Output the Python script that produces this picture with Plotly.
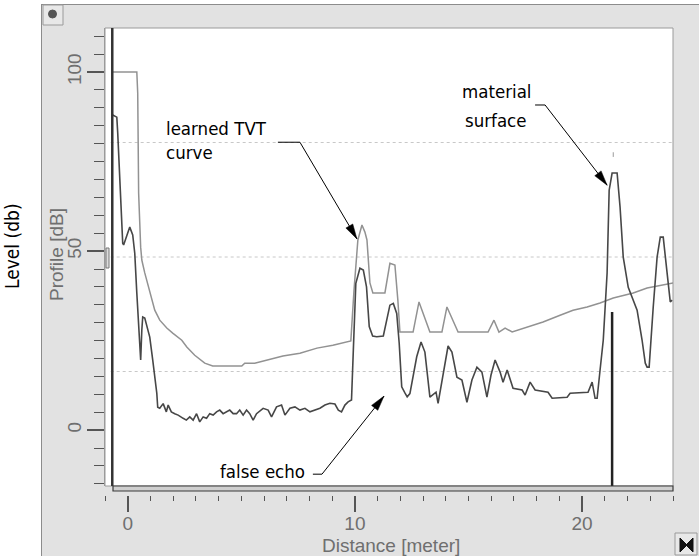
import math

import plotly.graph_objects as go

# ── Data ────────────────────────────────────────────────────────────────────
echo_x = [
    -0.66, -0.48, -0.44, -0.35, -0.26, -0.22, -0.18, -0.04, 0.09, 0.22,
    0.31, 0.40, 0.48, 0.57, 0.62, 0.66, 0.75, 0.88, 0.97, 1.10,
    1.28, 1.32,
    1.41, 1.56, 1.70, 1.78, 1.92, 2.07, 2.22, 2.44, 2.58, 2.73,
    2.88, 3.03, 3.17, 3.32, 3.47, 3.61, 3.76, 3.91, 4.05, 4.20,
    4.35, 4.49, 4.64, 4.79, 4.93, 5.08, 5.23, 5.37, 5.52, 5.67,
    5.96, 6.18, 6.33, 6.55, 6.77, 6.92, 7.14, 7.36, 7.58, 7.80,
    8.02, 8.24, 8.46, 8.68, 8.90, 9.12, 9.27, 9.41, 9.56, 9.70,
    9.85,
    9.93, 10.04, 10.22, 10.37, 10.51, 10.63, 10.78, 10.96, 11.25, 11.40,
    11.54, 11.69, 11.84, 11.95, 12.06, 12.20, 12.30, 12.42, 12.72, 12.91,
    13.08, 13.30, 13.57, 13.66, 13.88, 14.10, 14.27, 14.49, 14.71, 14.93,
    15.15, 15.37, 15.59, 15.81, 15.99, 16.17, 16.39, 16.52, 16.70, 16.96,
    17.36, 17.49, 17.71, 17.93, 18.50, 18.68, 19.34, 19.47, 20.26, 20.44,
    20.57, 20.66, 20.79, 20.93, 21.10, 21.19, 21.32, 21.54, 21.67, 21.81,
    22.03, 22.20, 22.42, 22.64, 22.78, 22.86, 22.95, 23.13, 23.30, 23.44,
    23.57, 23.74, 23.88, 23.96,
]
echo_y = [
    88.0, 87.4, 83.0, 70.7, 61.5, 52.2, 51.7, 54.5, 56.7, 54.5,
    49.4, 38.3, 28.8, 19.6, 27.9, 31.6, 31.3, 27.9, 26.0, 19.6,
    10.3, 6.4,
    6.1, 7.4, 5.1, 7.0, 5.1, 4.6, 4.2, 3.3, 2.8, 3.7,
    2.8, 4.6, 2.3, 3.7, 3.3, 4.6, 4.2, 5.1, 5.6, 4.6,
    5.1, 5.6, 4.6, 4.6, 5.6, 4.2, 5.6, 4.6, 2.8, 4.6,
    6.1, 5.6, 3.7, 6.5, 7.0, 4.2, 6.1, 6.5, 5.6, 6.1,
    5.1, 5.6, 6.1, 7.0, 7.5, 7.3, 5.6, 5.1, 7.0, 7.9,
    8.4,
    22.3, 41.0, 45.2, 44.7, 40.0, 28.9, 26.3, 26.1, 26.3, 30.7,
    34.9, 35.4, 32.6, 24.2, 12.1, 10.4, 9.3, 10.2, 20.5, 24.6,
    21.8, 9.2, 10.6, 7.5, 15.4, 23.5, 21.8, 14.8, 14.0, 7.8,
    14.0, 17.6, 16.2, 9.2, 15.4, 19.6, 16.2, 13.4, 16.8, 11.7,
    11.2, 9.8, 13.4, 11.2, 10.6, 8.9, 9.2, 10.3, 10.6, 13.4,
    8.9, 8.9, 16.8, 25.1, 43.9, 67.0, 71.8, 71.8, 62.3, 48.3,
    39.9, 37.2, 33.5, 25.1, 18.7, 17.6, 17.6, 34.4, 48.3, 53.9,
    53.9, 43.9, 35.8, 36.3,
]

tvt_x = [
    -0.66, 0.40, 0.44, 0.46, 0.48, 0.57, 0.62, 0.75, 0.97, 1.19,
    1.41, 1.72, 1.98, 2.38, 2.60, 2.95, 3.39, 3.74, 5.02, 5.15,
    5.59, 6.26, 6.83, 7.58, 8.33, 9.03, 9.69, 9.82, 9.96, 10.13,
    10.31, 10.44, 10.53, 10.66, 10.79, 11.32, 11.54, 11.76, 11.89, 11.98,
    12.56, 12.82, 13.30, 13.83, 14.05, 14.54, 15.86, 16.12, 16.34, 16.61,
    16.92, 17.58, 18.28, 19.03, 19.60, 20.22, 20.79, 21.37, 22.25, 22.86,
    23.44, 24.01,
]
tvt_y = [
    100.0, 100.0, 94.1, 84.6, 66.2, 51.1, 47.5, 43.9, 38.3, 33.5,
    30.7, 28.5, 27.1, 25.1, 23.2, 20.9, 18.7, 17.9, 17.9, 18.7,
    18.7, 19.8, 20.7, 21.5, 22.9, 23.7, 24.6, 24.9, 39.1, 53.1,
    57.3, 55.3, 53.1, 41.1, 38.3, 38.3, 46.6, 46.1, 36.3, 27.4,
    27.4, 35.8, 27.4, 27.4, 34.4, 27.4, 27.4, 30.7, 27.4, 28.5,
    27.4, 28.8, 30.2, 32.1, 33.5, 34.4, 35.5, 36.9, 38.3, 39.7,
    40.5, 41.1,
]

echo_marker_x = 21.32      # selected echo (material surface)
echo_marker_top = 33.0
blanking_x = -0.68         # near blanking cursor

X_RANGE = [-1.0, 24.0]
Y_RANGE = [-15.6, 112.3]

# ── Page geometry (pixels) ──────────────────────────────────────────────────
W, H = 699, 556
L, R, T, B = 105, 673, 28, 495   # plotting area; x axis hangs at B
PLOT_BOTTOM = 486
XPX = (R - L) / (X_RANGE[1] - X_RANGE[0])
YPX = (PLOT_BOTTOM - T) / (Y_RANGE[1] - Y_RANGE[0])


def fx(px):
    return (px - L) / (R - L)


def fy(py):
    return (B - py) / (B - T)


PANEL = "#e2e2e2"
TICK_GREY = "#6f6f6f"
AXFONT = "Liberation Sans, Arial, sans-serif"
NARROW = "DejaVu Sans Condensed, Liberation Sans Narrow, sans-serif"

fig = go.Figure()

fig.add_trace(go.Scatter(
    x=tvt_x, y=tvt_y, mode="lines",
    line=dict(color="#929292", width=1.5),
    hoverinfo="skip", showlegend=False,
))
fig.add_trace(go.Scatter(
    x=echo_x, y=echo_y, mode="lines",
    line=dict(color="#474747", width=1.6),
    hoverinfo="skip", showlegend=False,
))
fig.add_trace(go.Scatter(
    x=[echo_marker_x, echo_marker_x], y=[Y_RANGE[0], echo_marker_top],
    mode="lines", line=dict(color="#222222", width=2.5),
    hoverinfo="skip", showlegend=False,
))

shapes = []
# white page outside the grey instrument panel
shapes.append(dict(type="rect", xref="paper", yref="paper", layer="below",
                   x0=fx(0), x1=fx(41), y0=fy(0), y1=fy(H),
                   fillcolor="white", line=dict(width=0)))
shapes.append(dict(type="rect", xref="paper", yref="paper", layer="below",
                   x0=fx(0), x1=fx(W), y0=fy(0), y1=fy(4),
                   fillcolor="white", line=dict(width=0)))
shapes.append(dict(type="line", xref="paper", yref="paper",
                   x0=fx(41.5), x1=fx(41.5), y0=fy(4), y1=fy(H),
                   line=dict(color="#8c8c8c", width=1)))
shapes.append(dict(type="line", xref="paper", yref="paper",
                   x0=fx(41), x1=fx(W), y0=fy(4.5), y1=fy(4.5),
                   line=dict(color="#8c8c8c", width=1)))

# dotted grid at quarters of the y range
span = Y_RANGE[1] - Y_RANGE[0]
for k in (1, 2, 3):
    gy = Y_RANGE[0] + span * k / 4
    shapes.append(dict(type="line", xref="x domain", yref="y", layer="below",
                       x0=0.01, x1=1, y0=gy, y1=gy,
                       line=dict(color="#c8c8c8", width=1, dash="dot")))

# plot frame
shapes.append(dict(type="rect", xref="x domain", yref="y domain", layer="below",
                   x0=0, x1=1, y0=0, y1=1, line=dict(color="#9a9a9a", width=1)))
# blanking cursor
shapes.append(dict(type="line", xref="x", yref="y domain",
                   x0=blanking_x, x1=blanking_x, y0=0, y1=1,
                   line=dict(color="#333333", width=2.5)))
# small marker above the surface echo
shapes.append(dict(type="line", xref="x", yref="y",
                   x0=echo_marker_x + 0.05, x1=echo_marker_x + 0.05, y0=76.3, y1=77.6,
                   line=dict(color="#9a9a9a", width=1)))
# scroll bar under the plot
shapes.append(dict(type="rect", xref="paper", yref="paper",
                   x0=fx(113), x1=fx(673), y0=fy(491), y1=fy(PLOT_BOTTOM),
                   fillcolor="#cfcfcf", line=dict(color="#3a3a3a", width=1.2)))
# level marker on the y axis
shapes.append(dict(type="rect", xref="paper", yref="paper",
                   x0=fx(106), x1=fx(109), y0=fy(268), y1=fy(248),
                   fillcolor="#dddddd", line=dict(color="#777777", width=1)))
# top-left button
shapes.append(dict(type="rect", xref="paper", yref="paper",
                   x0=fx(43), x1=fx(63), y0=fy(25), y1=fy(5),
                   fillcolor="#e8e8e8", line=dict(color="#9a9a9a", width=1)))
shapes.append(dict(type="circle", xref="paper", yref="paper",
                   x0=fx(48.5), x1=fx(56.5), y0=fy(18), y1=fy(10),
                   fillcolor="#555555", line=dict(color="#555555", width=1)))
# bottom-right button
shapes.append(dict(type="rect", xref="paper", yref="paper",
                   x0=fx(675), x1=fx(697), y0=fy(555), y1=fy(533),
                   fillcolor="#e8e8e8", line=dict(color="#9a9a9a", width=1)))
shapes.append(dict(type="path", xref="paper", yref="paper",
                   path=(f"M{fx(680)},{fy(538)} L{fx(687)},{fy(545)} L{fx(680)},{fy(552)} Z "
                         f"M{fx(693)},{fy(538)} L{fx(686)},{fy(545)} L{fx(693)},{fy(552)} Z"),
                   fillcolor="#111111", line=dict(color="#111111", width=1)))

# callout arrows: (leader start x, elbow, tip)
arrows = [
    (6.61, (7.58, 80.4), (10.09, 53.4)),
    (17.93, (18.37, 90.8), (21.10, 68.4)),
    (8.15, (8.55, -12.3), (11.28, 9.5)),
]
for xs, (ex, ey), (tx, ty) in arrows:
    shapes.append(dict(type="line", xref="x", yref="y", x0=xs, x1=ex, y0=ey, y1=ey,
                       line=dict(color="black", width=1)))
    shapes.append(dict(type="line", xref="x", yref="y", x0=ex, x1=tx, y0=ey, y1=ty,
                       line=dict(color="black", width=1)))
    dx, dy = (tx - ex) * XPX, (ty - ey) * YPX
    n = math.hypot(dx, dy)
    ux, uy = dx / n, dy / n
    bx, by = -ux * 15, -uy * 15
    qx, qy = -uy * 4, ux * 4
    shapes.append(dict(type="path", xref="x", yref="y",
                       xsizemode="pixel", ysizemode="pixel", xanchor=tx, yanchor=ty,
                       path=f"M0,0 L{bx + qx:.2f},{by + qy:.2f} L{bx - qx:.2f},{by - qy:.2f} Z",
                       fillcolor="black", line=dict(color="black", width=0.5)))

annotations = []
callouts = [
    ("learned TVT<br>curve", 1.59, 80.9, "left"),
    ("material", 16.21, 94.6, "center"),
    ("surface", 16.21, 86.5, "center"),
    ("false echo", 3.96, -11.6, "left"),
]
for txt, x, y, anchor in callouts:
    annotations.append(dict(x=x, y=y, xref="x", yref="y", text=txt, showarrow=False,
                            xanchor=anchor, yanchor="middle", align="left",
                            font=dict(family=NARROW, size=18.5, color="black")))

annotations.append(dict(x=fx(12), y=fy(246), xref="paper", yref="paper",
                        text="Level (db)", textangle=-90, showarrow=False,
                        xanchor="center", yanchor="middle",
                        font=dict(family=NARROW, size=19, color="black")))
annotations.append(dict(x=fx(56), y=fy(255), xref="paper", yref="paper",
                        text="Profile [dB]", textangle=-90, showarrow=False,
                        xanchor="center", yanchor="middle",
                        font=dict(family=AXFONT, size=19, color=TICK_GREY)))
annotations.append(dict(x=fx(391), y=fy(545), xref="paper", yref="paper",
                        text="Distance [meter]", showarrow=False,
                        xanchor="center", yanchor="middle",
                        font=dict(family=AXFONT, size=19, color=TICK_GREY)))

fig.update_layout(
    width=W, height=H,
    margin=dict(l=L, r=W - R, t=T, b=H - B, pad=0),
    paper_bgcolor=PANEL,
    plot_bgcolor="white",
    showlegend=False,
    shapes=shapes,
    annotations=annotations,
    xaxis=dict(
        range=X_RANGE, anchor="free", position=0,
        showgrid=False, zeroline=False, showline=False,
        tickmode="linear", tick0=0, dtick=10,
        ticks="outside", ticklen=16, tickwidth=1.5, tickcolor="#555555",
        minor=dict(dtick=1, tick0=0, ticks="outside", ticklen=5, tickwidth=1.3,
                   tickcolor="#555555", showgrid=False),
        ticklabelstandoff=-5,
        tickfont=dict(family=AXFONT, size=19, color=TICK_GREY),
    ),
    yaxis=dict(
        range=Y_RANGE, domain=[fy(PLOT_BOTTOM), 1],
        showgrid=False, zeroline=False,
        showline=True, linecolor="#9a9a9a", linewidth=1,
        tickmode="linear", tick0=0, dtick=50,
        ticks="outside", ticklen=17, tickwidth=1.5, tickcolor="#555555",
        minor=dict(dtick=5, tick0=0, ticks="outside", ticklen=10, tickwidth=1.3,
                   tickcolor="#555555", showgrid=False),
        tickangle=-90,
        ticklabelstandoff=-2,
        tickfont=dict(family=AXFONT, size=19, color=TICK_GREY),
    ),
)

fig.write_html("out.html", config={"displayModeBar": False},
               post_script="document.body.style.margin='0';")
